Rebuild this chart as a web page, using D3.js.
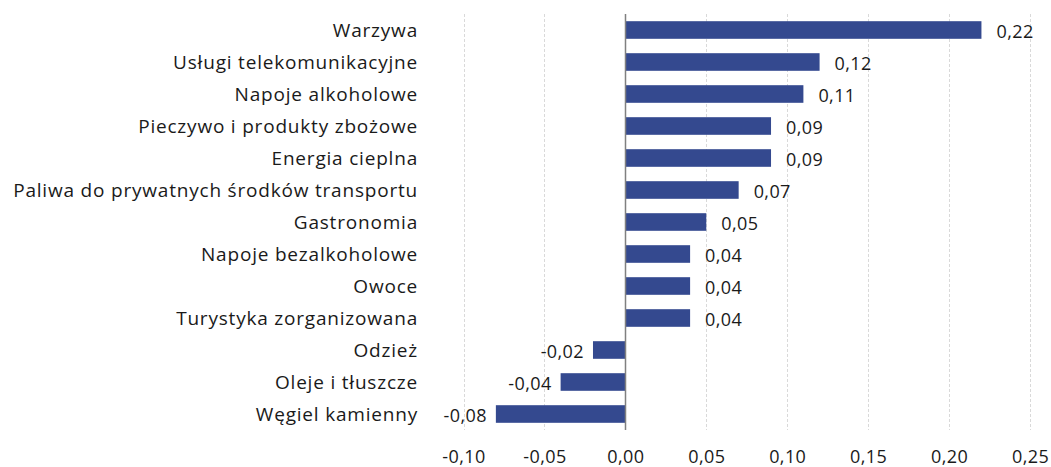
<!DOCTYPE html>
<html>
<head>
<meta charset="utf-8">
<script src="https://cdn.jsdelivr.net/npm/d3@7"></script>
<style>
  html, body { margin: 0; padding: 0; background: #fff; }
  #container { width: 1051px; height: 467px; }
  text { font-family: "Open Sans", "Noto Sans", sans-serif; }
</style>
</head>
<body>
<div id="container"></div>
<script>
// 数据
const categories = [
  "Warzywa",
  "Usługi telekomunikacyjne",
  "Napoje alkoholowe",
  "Pieczywo i produkty zbożowe",
  "Energia cieplna",
  "Paliwa do prywatnych środków transportu",
  "Gastronomia",
  "Napoje bezalkoholowe",
  "Owoce",
  "Turystyka zorganizowana",
  "Odzież",
  "Oleje i tłuszcze",
  "Węgiel kamienny"
];
const values = [0.22, 0.12, 0.11, 0.09, 0.09, 0.07, 0.05, 0.04, 0.04, 0.04, -0.02, -0.04, -0.08];
const xTicks = [-0.10, -0.05, 0, 0.05, 0.10, 0.15, 0.20, 0.25];

const data = categories.map((c, i) => ({ name: c, value: values[i] }));

const width = 1051;
const height = 467;
const marginTop = 14;
const marginBottom = 37;
const plotLeft = 463.5;
const plotRight = 1030;
const labelX = 418;

// 波兰语数字格式：逗号作小数点
const pl = d3.formatLocale({ decimal: ",", thousands: " ", grouping: [3], currency: ["", " zł"], minus: "-" });
const fmt = pl.format(".2f");

const svg = d3.select("#container")
  .append("svg")
  .attr("width", width)
  .attr("height", height)
  .attr("viewBox", [0, 0, width, height]);

const x = d3.scaleLinear()
  .domain([-0.10, 0.25])
  .range([plotLeft, plotRight]);

const y = d3.scaleBand()
  .domain(categories)
  .range([marginTop, height - marginBottom])
  .paddingInner(0.45)
  .paddingOuter(0.225);

// 网格线
svg.append("g")
  .selectAll("line")
  .data(xTicks.filter(d => d !== 0))
  .join("line")
  .attr("x1", d => Math.round(x(d)) + 0.5)
  .attr("x2", d => Math.round(x(d)) + 0.5)
  .attr("y1", marginTop)
  .attr("y2", height - marginBottom)
  .attr("stroke", "#d9d9d9")
  .attr("stroke-width", 1)
  .attr("stroke-dasharray", "3,2");

// 横坐标轴刻度值
svg.append("g")
  .attr("transform", `translate(0,${height - marginBottom})`)
  .call(d3.axisBottom(x).tickValues(xTicks).tickFormat(fmt).tickSize(0).tickPadding(20))
  .call(g => g.select(".domain").remove())
  .call(g => g.selectAll("text")
    .attr("font-family", "'Open Sans', 'Noto Sans', sans-serif")
    .attr("font-size", 18)
    .attr("letter-spacing", 0.4)
    .attr("fill", "#1a1a1a"));

// 柱子
svg.append("g")
  .attr("fill", "#34498f")
  .selectAll("rect")
  .data(data)
  .join("rect")
  .attr("x", d => x(Math.min(0, d.value)))
  .attr("y", d => y(d.name))
  .attr("width", d => Math.abs(x(d.value) - x(0)))
  .attr("height", y.bandwidth());

// 零线
svg.append("line")
  .attr("x1", Math.round(x(0)) + 0.5)
  .attr("x2", Math.round(x(0)) + 0.5)
  .attr("y1", marginTop)
  .attr("y2", height - marginBottom)
  .attr("stroke", "#808080")
  .attr("stroke-width", 1.5);

// 分类名称
svg.append("g")
  .attr("font-size", 19)
  .attr("letter-spacing", 0.8)
  .attr("fill", "#1a1a1a")
  .attr("text-anchor", "end")
  .selectAll("text")
  .data(data)
  .join("text")
  .attr("x", labelX)
  .attr("y", d => y(d.name) + y.bandwidth() / 2)
  .attr("dy", "0.35em")
  .text(d => d.name);

// 数值标注
svg.append("g")
  .attr("font-size", 18)
  .attr("letter-spacing", 0.4)
  .attr("fill", "#1a1a1a")
  .selectAll("text")
  .data(data)
  .join("text")
  .attr("x", d => d.value >= 0 ? x(d.value) + 15 : x(d.value) - 9)
  .attr("y", d => y(d.name) + y.bandwidth() / 2 + 1.5)
  .attr("dy", "0.35em")
  .attr("text-anchor", d => d.value >= 0 ? "start" : "end")
  .text(d => fmt(d.value));
</script>
</body>
</html>
